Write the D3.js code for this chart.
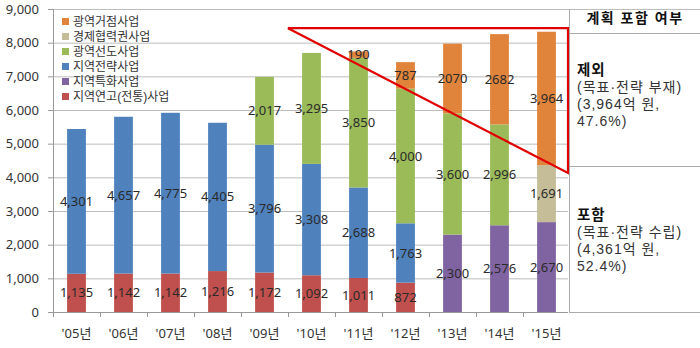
<!DOCTYPE html>
<html><head><meta charset="utf-8">
<script src="https://cdn.jsdelivr.net/npm/d3@7/dist/d3.min.js"></script>
<style>
html,body{margin:0;padding:0;background:#fff;}
svg text{font-family:"Noto Sans","Noto Sans CJK KR",sans-serif;}
svg text.leg{font-family:"Liberation Sans","Noto Sans CJK KR",sans-serif;}
</style></head>
<body><svg id="c" width="700" height="348"></svg>
<script>
const years = ["'05년","'06년","'07년","'08년","'09년","'10년","'11년","'12년","'13년","'14년","'15년"];
const seriesNames = ["지역연고(전통)사업","지역전략사업","지역특화사업","광역선도사업","경제협력권사업","광역거점사업"];
const seriesColors = ["#C0504D","#4F81BD","#8064A2","#9BBB59","#C4BD97","#E0843C"];
const vLocal   = [1135,1142,1142,1216,1172,1092,1011,872,0,0,0];
const vStrat   = [4301,4657,4775,4405,3796,3308,2688,1763,0,0,0];
const vSpecial = [0,0,0,0,0,0,0,0,2300,2576,2670];
const vLead    = [0,0,0,0,2017,3295,3850,4000,3600,2996,0];
const vEcon    = [0,0,0,0,0,0,0,0,0,0,1691];
const vHub     = [0,0,0,0,0,0,190,787,2070,2682,3964];
const plainLabels = ["5-8","5-9"]; // series-year labels shown without comma
const legendOrder = [5,4,3,1,2,0];
const yTicks = [0,1000,2000,3000,4000,5000,6000,7000,8000,9000];
const triangle = {leftYear:"'10년", top:8430, bottom:4130};
const tableHeader = "계획 포함 여부";
const tableRows = [
  {title:"제외", lines:["(목표·전략 부재)","(3,964억 원,","47.6%)"]},
  {title:"포함", lines:["(목표·전략 수립)","(4,361억 원,","52.4%)"]}
];

const series = [vLocal,vStrat,vSpecial,vLead,vEcon,vHub];
const svg = d3.select("#c");
const x = d3.scaleBand().domain(years).range([53,570]).paddingInner(0.6).paddingOuter(0.3);
const y = d3.scaleLinear().domain([0,9000]).range([312,9]);
const plotRight = 568;

// gridlines
svg.append("g").selectAll("line").data(yTicks.filter(d=>d>0)).join("line")
  .attr("x1",53).attr("x2",plotRight).attr("y1",d=>y(d)+0.5).attr("y2",d=>y(d)+0.5)
  .attr("stroke","#bdbdbd").attr("stroke-width",1);
svg.append("line").attr("x1",plotRight).attr("x2",700).attr("y1",y(9000)+0.5).attr("y2",y(9000)+0.5).attr("stroke","#bdbdbd");

// legend
const lg = svg.append("g");
legendOrder.forEach((si,i)=>{
  const yy = 22 + i*15;
  lg.append("rect").attr("x",62).attr("y",yy-4).attr("width",7).attr("height",7).attr("fill",seriesColors[si]);
  lg.append("text").attr("class","leg").attr("x",73).attr("y",yy).attr("dy","0.35em").attr("font-size",12).attr("fill","#333").text(seriesNames[si]);
});

// stacked data
const rows = years.map((yr,i)=>{const o={year:yr}; seriesNames.forEach((n,si)=>o[n]=series[si][i]); return o;});
const stack = d3.stack().keys(seriesNames)(rows);
const fmt = d3.format(",");
stack.forEach((layer,si)=>{
  svg.append("g").selectAll("rect").data(layer.filter(d=>d[1]-d[0]>0)).join("rect")
    .attr("x",d=>x(d.data.year)).attr("width",x.bandwidth())
    .attr("y",d=>y(d[1])).attr("height",d=>y(d[0])-y(d[1]))
    .attr("fill",seriesColors[si]);
});
stack.forEach((layer,si)=>{
  svg.append("g").selectAll("text").data(layer.map((d,i)=>({d,i})).filter(o=>o.d[1]-o.d[0]>0)).join("text")
    .attr("x",o=>x(o.d.data.year)+x.bandwidth()/2).attr("y",o=>y((o.d[0]+o.d[1])/2))
    .attr("dy","0.35em").attr("text-anchor","middle").attr("font-size",13).attr("fill","#2a2a2a")
    .text(o=>{const v=o.d[1]-o.d[0]; return plainLabels.includes(si+"-"+o.i)? String(v) : fmt(v);});
});

// axes
const ya = svg.append("g").attr("transform","translate(53,0)")
  .call(d3.axisLeft(y).tickValues(yTicks).tickFormat(fmt).tickSize(5).tickPadding(9));
ya.select(".domain").attr("stroke","#999");
ya.selectAll(".tick line").attr("stroke","#999");
ya.selectAll("text").attr("font-size",13).attr("fill","#333").style("font-family",'"Noto Sans",sans-serif');
svg.append("line").attr("x1",53).attr("x2",plotRight).attr("y1",312.5).attr("y2",312.5).attr("stroke","#999");
const xb = svg.append("g");
d3.range(years.length).forEach(k=>{
  const xx = Math.round(53 + k*x.step())+0.5;
  xb.append("line").attr("x1",xx).attr("x2",xx).attr("y1",312).attr("y2",317).attr("stroke","#999");
});
svg.append("g").selectAll("text").data(years).join("text")
  .attr("x",d=>x(d)+x.bandwidth()/2).attr("y",333).attr("dy","0.35em").attr("text-anchor","middle")
  .attr("font-size",13).attr("fill","#333").text(d=>d);

// red triangle
const xl = x(triangle.leftYear) - x.step()*x.paddingInner()/2;
svg.append("path")
  .attr("d",`M${xl},${y(triangle.top)}L${plotRight},${y(triangle.top)}L${plotRight},${y(triangle.bottom)}Z`)
  .attr("fill","none").attr("stroke","#E00000").attr("stroke-width",2.2);

// table
const tg = svg.append("g");
tg.append("line").attr("x1",569.5).attr("x2",569.5).attr("y1",y(9000)).attr("y2",313).attr("stroke","#aaa");
[33,166,312].forEach(yy=>tg.append("line").attr("x1",569).attr("x2",700).attr("y1",yy+0.5).attr("y2",yy+0.5).attr("stroke","#aaa"));
tg.append("text").attr("class","leg").attr("x",635).attr("y",18).attr("dy","0.35em").attr("text-anchor","middle")
  .attr("font-size",14).attr("font-weight","bold").attr("letter-spacing",1.5).attr("fill","#111").text(tableHeader);
tableRows.forEach((r,ri)=>{
  const y0 = ri===0 ? 70 : 215;
  tg.append("text").attr("class","leg").attr("x",577).attr("y",y0).attr("dy","0.35em").attr("font-size",14.5).attr("font-weight","bold").attr("letter-spacing",1).attr("fill","#111").text(r.title);
  r.lines.forEach((l,li)=>tg.append("text").attr("class","leg").attr("x",577).attr("y",y0+17*(li+1)).attr("dy","0.35em")
    .attr("font-size",14).attr("letter-spacing",1).attr("fill","#333").text(l));
});
</script></body></html>
